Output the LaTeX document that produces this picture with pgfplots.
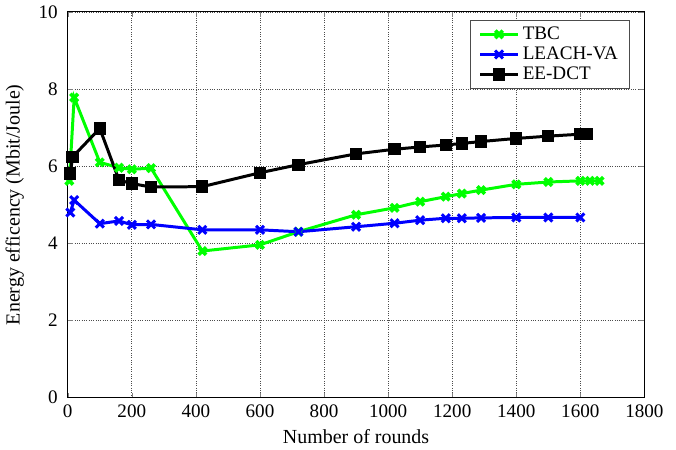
\documentclass[border=0pt]{standalone}
\usepackage{fontspec}
\setmainfont{Liberation Serif}
\usepackage{pgfplots}
\pgfplotsset{compat=1.18}

\definecolor{tbcgreen}{RGB}{0,255,0}
\definecolor{leachblue}{RGB}{0,0,255}

\begin{document}
\begin{tikzpicture}
  \begin{axis}[
    width=347pt, height=232pt,
    scale only axis,
    xmin=0, xmax=1800, ymin=0, ymax=10,
    xtick={0,200,...,1800},
    ytick={0,2,...,10},
    /pgf/number format/assume math mode=true,
    /pgf/number format/1000 sep={},
    tick label style={font=\fontsize{11.5}{13}\selectfont},
    yticklabel style={xshift=-2.5pt},
    xticklabel style={yshift=-1pt},
    label style={font=\fontsize{12}{14}\selectfont},
    xlabel={Number of rounds},
    ylabel={Energy efficency (Mbit/Joule)},
    xlabel style={yshift=0pt},
    ylabel style={yshift=2pt},
    tick align=inside,
    major tick length=3pt,
    grid=major,
    grid style={densely dotted, black!70, line width=0.4pt},
    axis line style={line width=0.6pt},
    legend style={at={(0.975,0.98)}, anchor=north east, font=\fontsize{11.5}{13}\selectfont,
      draw=black!70, line width=0.5pt, row sep=-1pt, inner xsep=5pt},
    legend cell align=left,
    legend image code/.code={
      \draw[mark repeat=2,mark phase=2] plot coordinates {(0cm,0cm) (0.4cm,0cm) (0.8cm,0cm)};},
  ]
    \addplot[color=tbcgreen, line width=1.8pt, mark=x, mark size=3.2pt,
      mark options={line width=2.2pt}] coordinates {
      (5,5.62) (20,7.78) (100,6.10) (160,5.96) (200,5.92) (260,5.95)
      (420,3.80) (600,3.96) (720,4.30) (900,4.74) (1020,4.92) (1100,5.08)
      (1180,5.21) (1230,5.29) (1290,5.38) (1400,5.53) (1500,5.59)
      (1600,5.62) (1630,5.62) (1660,5.62)};
    \addlegendentry{TBC}
    \addplot[color=leachblue, line width=1.8pt, mark=x, mark size=3.4pt,
      mark options={line width=1.8pt}] coordinates {
      (8,4.80) (20,5.12) (100,4.51) (160,4.58) (200,4.48) (260,4.49)
      (420,4.35) (600,4.35) (720,4.30) (900,4.43) (1020,4.52) (1100,4.60)
      (1180,4.65) (1230,4.65) (1290,4.66) (1400,4.67) (1500,4.67) (1600,4.67)};
    \addlegendentry{LEACH-VA}
    \addplot[color=black, line width=1.8pt, mark=square*, mark size=2.8pt]
      coordinates {
      (8,5.81) (15,6.24) (100,6.98) (160,5.64) (200,5.55) (260,5.46)
      (420,5.47) (600,5.83) (720,6.04) (900,6.32) (1020,6.44) (1100,6.50)
      (1180,6.55) (1230,6.59) (1290,6.64) (1400,6.72) (1500,6.78)
      (1600,6.83) (1620,6.84)};
    \addlegendentry{EE-DCT}
  \end{axis}
  \path (current axis.south east) ++(19pt,0);
\end{tikzpicture}
\end{document}
